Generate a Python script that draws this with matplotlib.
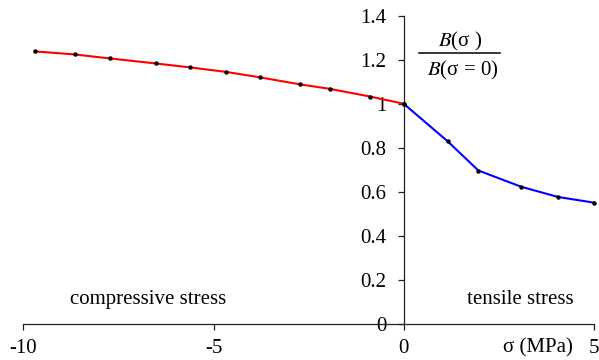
import numpy as np
import matplotlib
matplotlib.use("Agg")
import matplotlib.pyplot as plt
from matplotlib.lines import Line2D

plt.rcParams['font.family'] = ['Liberation Serif', 'DejaVu Serif']
plt.rcParams['mathtext.fontset'] = 'stix'
plt.rcParams['axes.unicode_minus'] = False

# compressive side (sigma < 0), red curve
sigma_comp = [-9.70, -8.65, -7.73, -6.51, -5.61, -4.68, -3.78, -2.72, -1.95, -0.89, 0.0]
ratio_comp = [1.238, 1.224, 1.206, 1.183, 1.165, 1.145, 1.120, 1.088, 1.068, 1.033, 1.0]

# tensile side (sigma > 0), blue curve
sigma_tens = [0.0, 1.15, 1.96, 3.09, 4.05, 5.0]
ratio_tens = [1.0, 0.830, 0.697, 0.623, 0.577, 0.551]

x_ticks = [-10, -5, 0, 5]
y_ticks = [0, 0.2, 0.4, 0.6, 0.8, 1.0, 1.2, 1.4]
y_tick_labels = ['0', '0.2', '0.4', '0.6', '0.8', '1', '1.2', '1.4']

fig = plt.figure(figsize=(5.99, 3.6), dpi=100)
ax = fig.add_axes([0.0389, 0.1, 0.9528, 0.8564])

ax.plot(sigma_comp, ratio_comp, color='#ff0000', lw=1.5, zorder=2, clip_on=False)
ax.plot(sigma_tens, ratio_tens, color='#0000ff', lw=1.5, zorder=2, clip_on=False)
ax.plot(sigma_comp, ratio_comp, 'o', color='black', ms=2.2, zorder=3, clip_on=False)
ax.plot(sigma_tens, ratio_tens, 'o', color='black', ms=2.2, zorder=3, clip_on=False)

ax.set_xlim(-10, 5)
ax.set_ylim(0, 1.4)

# axes cross at the origin
ax.spines['left'].set_position(('data', 0))
ax.spines['bottom'].set_position(('data', 0))
ax.spines['top'].set_visible(False)
ax.spines['right'].set_visible(False)
for s in ['left', 'bottom']:
    ax.spines[s].set_linewidth(0.9)
    ax.spines[s].set_color('#222222')

ax.set_xticks(x_ticks)
ax.set_yticks(y_ticks)
ax.set_yticklabels(y_tick_labels)
ax.tick_params(axis='both', direction='out', length=4.5, width=0.9,
               color='#222222', labelsize=15)
ax.tick_params(axis='x', pad=6.5)
ax.tick_params(axis='y', pad=8)

ax.text(0.218, 0.078, 'compressive stress', transform=ax.transAxes,
        ha='center', va='center', fontsize=15)
ax.text(0.870, 0.078, 'tensile stress', transform=ax.transAxes,
        ha='center', va='center', fontsize=15)
ax.text(0.902, -0.078, 'σ (MPa)', transform=ax.transAxes,
        ha='center', va='center', fontsize=15)

# fraction label
fig.text(460 / 599, 1 - 41 / 360, r'$B$(σ )', ha='center', va='center', fontsize=15)
fig.text(463 / 599, 1 - 70 / 360, r'$B$(σ = 0)', ha='center', va='center', fontsize=15)
fig.add_artist(Line2D([419 / 599, 500 / 599], [1 - 53 / 360, 1 - 53 / 360],
                      color='black', lw=1.1, transform=fig.transFigure))

fig.savefig('out.png', dpi=100)
